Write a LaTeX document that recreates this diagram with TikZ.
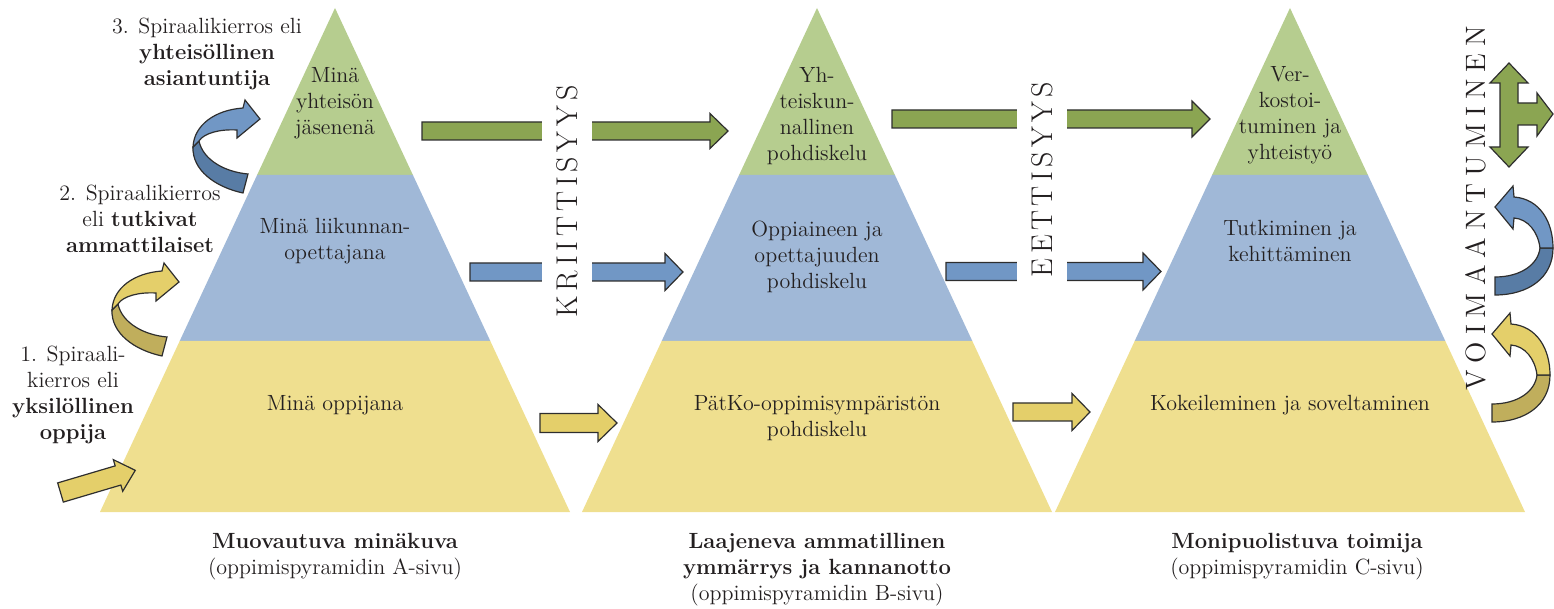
\documentclass[tikz,border=0pt]{standalone}
\usepackage{fontspec}
\definecolor{pgreen}{HTML}{B6CD8F}
\definecolor{pblue}{HTML}{A0B8D7}
\definecolor{pyellow}{HTML}{EFDF8F}
\definecolor{agreen}{HTML}{8BA552}
\definecolor{ablue}{HTML}{7197C5}
\definecolor{ayellow}{HTML}{E4CF6A}
\definecolor{dblue}{HTML}{587CA5}
\definecolor{dyellow}{HTML}{C0AE5C}
\definecolor{ink}{HTML}{231F20}
\definecolor{rim}{HTML}{2E2E2E}
% straight block arrow: style, x from, x to, y centre, shaft half, head half, head length
\newcommand\blockarrow[7]{%
  \path[#1] (#2,#4-#5) -- (#3-#7,#4-#5) -- (#3-#7,#4-#6) -- (#3,#4)
    -- (#3-#7,#4+#6) -- (#3-#7,#4+#5) -- (#2,#4+#5) -- cycle;}
% ribbon arrow turning up to the right (back face first, then front face)
\newcommand\curlright[2]{%
  \path[rimline, fill=#2] (243,193) .. controls (215,187) and (192,170) .. (193,147)
    -- (199,141) .. controls (203,160) and (225,172) .. (248,174) -- cycle;
  \path[rimline, fill=#1] (193,147) .. controls (194,125) and (215,110) .. (243,108)
    -- (245,100) -- (260,119) -- (237,138) -- (237,130)
    .. controls (220,129) and (204,133) .. (199,141) -- cycle;}
% ribbon arrow turning up to the left
\newcommand\curlleft[2]{%
  \path[rimline, fill=#2] (1553,248) .. controls (1553,278) and (1528,295) .. (1495,295)
    -- (1495,277) .. controls (1520,277) and (1538,265) .. (1540,248) -- cycle;
  \path[rimline, fill=#1] (1495,207) -- (1513,186) -- (1514,197)
    .. controls (1540,199) and (1553,222) .. (1553,248) -- (1540,248)
    .. controls (1538,232) and (1528,219) .. (1514,218) -- (1513,229) -- cycle;}
\begin{document}
\begin{tikzpicture}[x=0.5pt,y=-0.5pt,
  font=\fontsize{11}{13}\selectfont,
  rimline/.style={draw=rim, line width=0.6pt, line join=miter},
  garrow/.style={rimline, fill=agreen},
  barrow/.style={rimline, fill=ablue},
  yarrow/.style={rimline, fill=ayellow},
  layertext/.style={align=center, text=ink, inner sep=0pt},
  caption/.style={align=center, text=ink, inner sep=0pt},
  sidelabel/.style={align=center, text=ink, inner sep=0pt},
  vword/.style={rotate=90, text=ink, font=\fontsize{15}{15}\selectfont\addfontfeature{FakeBold=1.6}},
  gapword/.style={vword, fill=white, inner xsep=5pt, minimum height=25pt}]
\useasboundingbox (0,0) rectangle (1554,609);

% three learning pyramids
\foreach \c in {335,817,1290}{
  \fill[pgreen] (\c,8) -- (\c+77.9,175) -- (\c-77.9,175) -- cycle;
  \fill[pblue] (\c-77.9,175) -- (\c+77.9,175) -- (\c+155.3,341) -- (\c-155.3,341) -- cycle;
  \fill[pyellow] (\c-155.3,341) -- (\c+155.3,341) -- (\c+235,512) -- (\c-235,512) -- cycle;
}

% layer texts
\node[layertext] (a1) at (335,103) {Minä\\yhteisön\\jäsenenä};
\node[layertext] (a2) at (335,241) {Minä liikunnan-\\opettajana};
\node[layertext] (a3) at (335,405) {Minä oppijana};
\node[layertext] (b1) at (817,116) {Yh-\\teiskun-\\nallinen\\pohdiskelu};
\node[layertext] (b2) at (817,257) {Oppiaineen ja\\opettajuuden\\pohdiskelu};
\node[layertext] (b3) at (817,418) {PätKo-oppimisympäristön\\pohdiskelu};
\node[layertext] (c1) at (1290,115) {Ver-\\kostoi-\\tuminen ja\\yhteistyö};
\node[layertext] (c2) at (1290,241) {Tutkiminen ja\\kehittäminen};
\node[layertext] (c3) at (1290,405) {Kokeileminen ja soveltaminen};

% captions under the pyramids
\node[caption] (ca) at (335,557) {\textbf{Muovautuva minäkuva}\\(oppimispyramidin A-sivu)};
\node[caption] (cb) at (817,570) {\textbf{Laajeneva ammatillinen}\\\textbf{ymmärrys ja kannanotto}\\(oppimispyramidin B-sivu)};
\node[caption] (cc) at (1297,557) {\textbf{Monipuolistuva toimija}\\(oppimispyramidin C-sivu)};

% spiral round labels
\node[sidelabel] (s3) at (207,54) {3. Spiraalikierros eli\\\textbf{yhteisöllinen}\\\textbf{asiantuntija}};
\node[sidelabel] (s2) at (140,219) {2. Spiraalikierros\\eli \textbf{tutkivat}\\\textbf{ammattilaiset}};
\node[sidelabel] (s1) at (73,395) {1. Spiraali-\\kierros eli\\\textbf{yksilöllinen}\\\textbf{oppija}};

% arrows between the pyramids
\blockarrow{garrow}{422}{728}{131}{9}{17.5}{18}
\blockarrow{barrow}{470}{683}{272}{9}{18.5}{18}
\blockarrow{yarrow}{540}{617}{423}{9.5}{18.5}{19}
\blockarrow{garrow}{892}{1210}{119}{9}{18}{18}
\blockarrow{barrow}{946}{1161}{271.5}{9}{18.5}{18}
\blockarrow{yarrow}{1013}{1090}{412}{9}{18.5}{18}

% vertical words across the arrows
\node[gapword] (kr) at (567,201.5) {K\kern2.4pt R\kern2.4pt I\kern2.4pt I\kern2.4pt T\kern2.4pt T\kern2.4pt I\kern2.4pt S\kern2.4pt Y\kern2.4pt Y\kern2.4pt S};
\node[gapword] (et) at (1042,179.5) {E\kern2.2pt E\kern2.2pt T\kern2.2pt T\kern2.2pt I\kern2.2pt S\kern2.2pt Y\kern2.2pt Y\kern2.2pt S};
\node[vword, inner sep=0pt, font=\fontsize{14}{14}\selectfont\addfontfeature{FakeBold=1.6}] (vo) at (1476,208.5)
  {V\kern3.5pt O\kern3.5pt I\kern3.5pt M\kern3.5pt A\kern3.5pt A\kern3.5pt N\kern3.5pt T\kern3.5pt U\kern3.5pt M\kern3.5pt I\kern3.5pt N\kern3.5pt E\kern3.5pt N};

% entry arrow into the first pyramid
\begin{scope}[shift={(60.5,492.5)}, rotate=16.5]
  \path[yarrow] (0,-10) -- (60,-10) -- (60,-16.5) -- (78,0) -- (60,16.5) -- (60,10) -- (0,10) -- cycle;
\end{scope}

% spiral turns on the left
\curlright{ablue}{dblue}
\begin{scope}[shift={(-81,163)}]
  \curlright{ayellow}{dyellow}
\end{scope}

% empowerment arrows on the right
\curlleft{ablue}{dblue}
\begin{scope}[shift={(-3,127)}]
  \curlleft{ayellow}{dyellow}
\end{scope}
\path[garrow] (1509,63) -- (1528,83) -- (1518,83) -- (1518,103) -- (1537,103) -- (1537,93)
  -- (1553,114) -- (1537,136) -- (1537,125) -- (1518,125) -- (1518,147) -- (1528,147)
  -- (1509,167) -- (1490,147) -- (1500,147) -- (1500,83) -- (1490,83) -- cycle;
\end{tikzpicture}
\end{document}
